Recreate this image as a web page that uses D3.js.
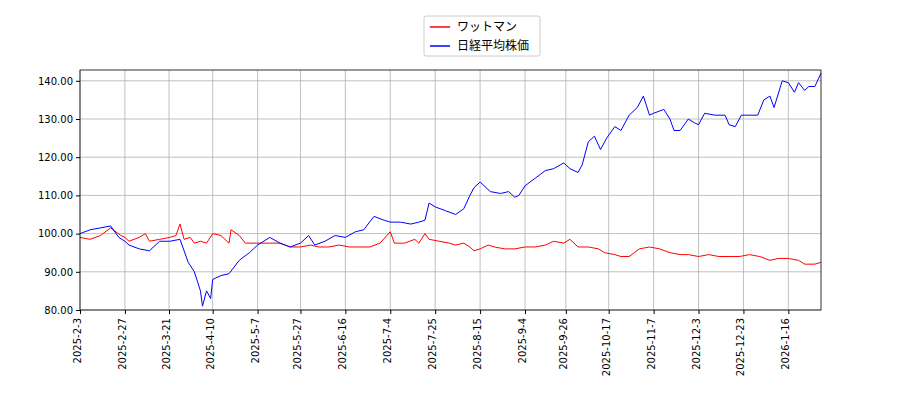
<!DOCTYPE html><html><head><meta charset="utf-8"><script src="https://cdn.jsdelivr.net/npm/d3@7"></script>
<style>body{margin:0;background:#fff;font-family:"DejaVu Sans",sans-serif}</style></head><body><svg id="c" width="900" height="400"></svg>
<script>
const seriesNames = ["ワットマン","日経平均株価"];
const colors = ["#ff0000","#0000ff"];
const tickLabels = ["2025-2-3","2025-2-27","2025-3-21","2025-4-10","2025-5-7","2025-5-27","2025-6-16","2025-7-4","2025-7-25","2025-8-15","2025-9-4","2025-9-26","2025-10-17","2025-11-7","2025-12-3","2025-12-23","2026-1-16"];
const tickIdx = [0,22,43.6,65,87,108,130,152,174,196,218,238,259,281,303,325,347];
const yTicks = [80,90,100,110,120,130,140];
const redDays = [0,5,10,15,20,22,24,29,32,34,39,44,47,49,51,54,56,59,62,65,69,73,74,78,81,87,93,98,103,108,113,117,122,127,132,137,142,147,152,154,159,164,166,169,171,176,181,184,188,191,193,196,200,203,208,213,218,223,228,232,237,240,244,249,254,257,262,265,269,274,279,284,289,294,298,303,308,313,318,323,328,333,338,342,347,352,355,360,363];
const redVals = [99,98.5,99.5,101.5,99.5,99,98,99,100,98,98.5,99,99.5,102.5,98.5,99,97.5,98,97.5,100,99.5,97.5,101,99.5,97.5,97.5,97.5,97.5,96.5,96.5,97,96.5,96.5,97,96.5,96.5,96.5,97.5,100.5,97.5,97.5,98.5,97.5,100,98.5,98,97.5,97,97.5,96.5,95.5,96,97,96.5,96,96,96.5,96.5,97,98,97.5,98.5,96.5,96.5,96,95,94.5,94,94,96,96.5,96,95,94.5,94.5,94,94.5,94,94,94,94.5,94,93,93.5,93.5,93,92,92,92.5];
const blueDays = [0,5,10,15,19,22,24,29,34,39,44,49,53,56,59,60,62,64,65,69,73,78,83,87,93,98,103,108,112,115,120,125,130,135,139,144,149,152,157,162,166,169,171,174,179,184,188,191,193,196,201,206,210,213,215,218,223,228,232,237,240,244,246,249,252,255,258,262,265,269,273,276,279,281,286,289,291,294,298,301,303,306,311,316,318,321,324,328,332,335,338,340,344,347,350,352,355,357,360,363];
const blueVals = [100,101,101.5,102,99,98,97,96,95.5,98,98,98.5,92.5,90,85,81,85,83,88,89,89.5,93,95,97,99,97.5,96.5,97.5,99.5,97,98,99.5,99,100.5,101,104.5,103.5,103,103,102.5,103,103.5,108,107,106,105,106.5,110,112,113.5,111,110.5,111,109.5,110,112.5,114.5,116.5,117,118.5,117,116,118,124,125.5,122,125,128,127,131,133,136,131,131.5,132.5,130,127,127,130,129,128.5,131.5,131,131,128.5,128,131,131,131,135,136,133,140,139.5,137,139.5,137.5,138.5,138.5,142];

const svg = d3.select("#c");
const m = {l:80,r:821,t:70,b:310};
const x = d3.scaleLinear().domain([0, 363]).range([m.l,m.r]);
const y = d3.scaleLinear().domain([80, 80+(240/3.82)]).range([m.b,m.t]);

const g = svg.append("g");
g.selectAll(".gx").data(tickIdx).enter().append("line").attr("x1",d=>x(d)).attr("x2",d=>x(d)).attr("y1",m.t).attr("y2",m.b).attr("stroke","#b0b0b0").attr("stroke-width",0.8);
g.selectAll(".gy").data(yTicks).enter().append("line").attr("x1",m.l).attr("x2",m.r).attr("y1",d=>y(d)).attr("y2",d=>y(d)).attr("stroke","#b0b0b0").attr("stroke-width",0.8);

const line = d3.line().x(d=>x(d[0])).y(d=>y(d[1]));
svg.append("path").datum(redDays.map((d,i)=>[d,redVals[i]])).attr("d",line).attr("fill","none").attr("stroke",colors[0]).attr("stroke-width",1);
svg.append("path").datum(blueDays.map((d,i)=>[d,blueVals[i]])).attr("d",line).attr("fill","none").attr("stroke",colors[1]).attr("stroke-width",1);

svg.append("rect").attr("x",m.l).attr("y",m.t).attr("width",m.r-m.l).attr("height",m.b-m.t).attr("fill","none").attr("stroke","#000").attr("stroke-width",0.8);

const ya = svg.append("g").attr("transform",`translate(${m.l},0)`).call(d3.axisLeft(y).tickValues(yTicks).tickFormat(d3.format(".2f")).tickSize(4));
ya.select(".domain").remove();
ya.selectAll("text").attr("font-size",10).attr("fill","#000").attr("font-family","DejaVu Sans");
const xa = svg.append("g").attr("transform",`translate(0,${m.b})`).call(d3.axisBottom(x).tickValues(tickIdx).tickFormat((d,i)=>tickLabels[i]).tickSize(4));
xa.select(".domain").remove();
xa.selectAll("text").attr("font-size",10).attr("fill","#000").attr("font-family","DejaVu Sans")
  .attr("transform","rotate(-90)").attr("text-anchor","end").attr("dx","-0.5em").attr("dy","-0.3em").attr("x",-3).attr("y",0)
  .style("dominant-baseline","central");

const lg = svg.append("g");
lg.append("rect").attr("x",424).attr("y",16).attr("width",116).attr("height",40).attr("fill","#fff").attr("stroke","#ccc").attr("rx",2);
seriesNames.forEach((n,i)=>{
  const yy = 27+i*19;
  lg.append("line").attr("x1",430).attr("x2",450).attr("y1",yy).attr("y2",yy).attr("stroke",colors[i]).attr("stroke-width",1.5);
  lg.append("text").attr("x",457).attr("y",yy+4).text(n).attr("font-size",12).attr("font-family","Noto Sans CJK JP");
});
</script></body></html>
